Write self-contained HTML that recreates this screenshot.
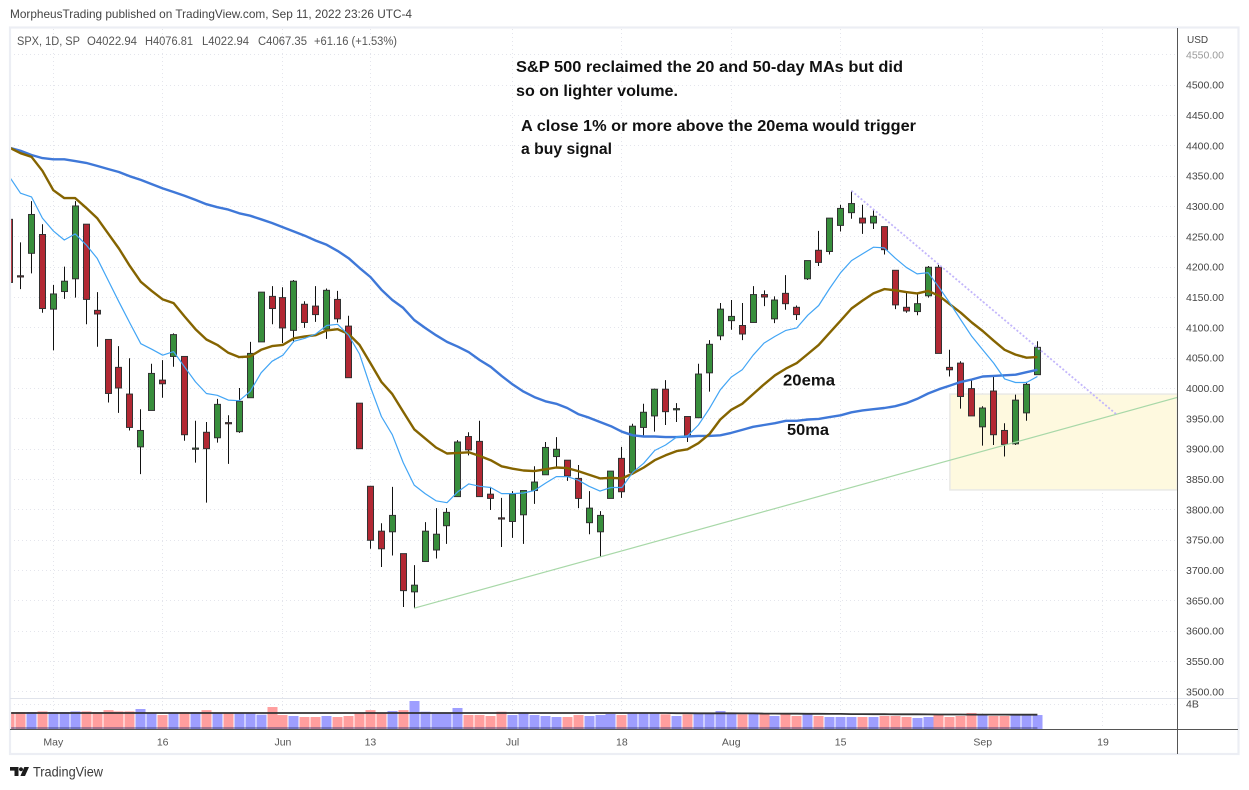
<!DOCTYPE html>
<html lang="en">
<head>
<meta charset="utf-8">
<title>SPX daily chart</title>
<style>
html,body{margin:0;padding:0;background:#fff;width:1249px;height:790px;overflow:hidden}
svg{display:block;font-family:"Liberation Sans",sans-serif}
</style>
</head>
<body>
<svg id="chart" xmlns="http://www.w3.org/2000/svg" width="1249" height="790" viewBox="0 0 1249 790">
  <defs>
    <clipPath id="main-clip"><rect x="10" y="29" width="1167" height="669"/></clipPath>
    <clipPath id="vol-clip"><rect x="10" y="699" width="1167" height="30"/></clipPath>
  </defs>
  <text x="10" y="18" font-size="12" fill="#444" textLength="402" lengthAdjust="spacingAndGlyphs">MorpheusTrading published on TradingView.com, Sep 11, 2022 23:26 UTC-4</text>

  <g id="grid"></g>
  <rect id="zone" fill="#fef9df" stroke="#e9e9e6" stroke-width="1.5"/>
  <g id="volume" clip-path="url(#vol-clip)"></g>
  <g id="candles" clip-path="url(#main-clip)"></g>
  <g id="lines" clip-path="url(#main-clip)"></g>
  <g id="drawings" clip-path="url(#main-clip)"></g>

  <g>
    <rect x="10" y="27.5" width="1228.5" height="726.5" fill="none" stroke="#eceef4" stroke-width="2.2"/>
    <line x1="10" x2="1238" y1="698.5" y2="698.5" stroke="#e0e3eb"/>
    <line x1="10" x2="1238" y1="729.5" y2="729.5" stroke="#555"/>
    <line x1="1177.5" x2="1177.5" y1="28" y2="754" stroke="#555"/>
  </g>

  <g font-size="11.5" fill="#555">
    <text x="17" y="45" textLength="63" lengthAdjust="spacingAndGlyphs">SPX, 1D, SP</text>
    <text x="87" y="45" textLength="50" lengthAdjust="spacingAndGlyphs">O4022.94</text>
    <text x="145" y="45" textLength="48" lengthAdjust="spacingAndGlyphs">H4076.81</text>
    <text x="202" y="45" textLength="47" lengthAdjust="spacingAndGlyphs">L4022.94</text>
    <text x="258" y="45" textLength="49" lengthAdjust="spacingAndGlyphs">C4067.35</text>
    <text x="314" y="45" textLength="83" lengthAdjust="spacingAndGlyphs">+61.16 (+1.53%)</text>
  </g>

  <g font-size="15.5" font-weight="bold" fill="#111">
    <text x="516" y="72" textLength="387" lengthAdjust="spacingAndGlyphs">S&amp;P 500 reclaimed the 20 and 50-day MAs but did</text>
    <text x="516" y="96" textLength="162" lengthAdjust="spacingAndGlyphs">so on lighter volume.</text>
    <text x="521" y="131" textLength="395" lengthAdjust="spacingAndGlyphs">A close 1% or more above the 20ema would trigger</text>
    <text x="521" y="154" textLength="91" lengthAdjust="spacingAndGlyphs">a buy signal</text>
    <text x="783" y="385.5" textLength="52" lengthAdjust="spacingAndGlyphs">20ema</text>
    <text x="787" y="435" textLength="42" lengthAdjust="spacingAndGlyphs">50ma</text>
  </g>

  <g id="price-labels" font-size="10.5" fill="#444"></g>
  <text x="1187" y="43" font-size="10" fill="#444">USD</text>
  <text x="1186" y="707.5" font-size="10.5" fill="#444">4B</text>
  <g id="time-labels" font-size="10.5" fill="#555" text-anchor="middle"></g>

  <g>
    <path d="M10 767h8.5v9h-4v-5.4H10zM24.3 767h4.7l-4 9h-4.6zM21 767.2a2 2 0 1 1-.01 0z" fill="#1c1c1c"/>
    <text x="33" y="776.5" font-size="13.5" fill="#3a3a3a" textLength="70" lengthAdjust="spacingAndGlyphs">TradingView</text>
  </g>
</svg>
<script>
const priceTicks = [4550,4500,4450,4400,4350,4300,4250,4200,4150,4100,4050,4000,3950,3900,3850,3800,3750,3700,3650,3600,3550,3500];
const timeLabels = ['May','16','Jun','13','Jul','18','Aug','15','Sep','19'];
const timeTickBars = [4,14,25,33,46,56,66,76,89,100];

const opens = [4278,4185,4222,4253,4130,4159,4180,4270,4128,4080,4034,3990,3903,3963,4013,4052,4052,3899,3927,3918,3943,3928,3984,4076,4151,4149,4095,4138,4135,4097,4146,4102,3975,3838,3764,3763,3727,3664,3714,3733,3773,3821,3920,3912,3825,3786,3780,3791,3831,3857,3887,3881,3851,3778,3763,3818,3884,3861,3935,3954,3998,3964,3953,3951,4025,4086,4111,4103,4108,4154,4114,4156,4133,4180,4227,4225,4268,4289,4280,4272,4266,4194,4133,4126,4152,4199,4034,4041,3999,3936,3995,3930,3908,3959,4022];
const highs = [4278,4240,4308,4270,4170,4200,4308,4270,4158,4080,4069,4049,3965,4040,4046,4090,4052,3946,3944,3982,3955,4000,4076,4158,4168,4166,4178,4143,4168,4164,4160,4119,3975,3838,3777,3837,3727,3708,3779,3802,3802,3914,3927,3946,3837,3819,3830,3831,3871,3911,3919,3881,3873,3830,3797,3863,3903,3941,3974,3999,4013,3975,3953,4040,4079,4140,4145,4140,4168,4161,4151,4186,4136,4210,4259,4280,4302,4325,4302,4293,4266,4194,4159,4156,4201,4203,4063,4044,4013,3970,4019,3942,3989,4010,4077];
const lows = [4174,4163,4189,4124,4062,4147,4149,4105,4068,3976,3959,3930,3858,3963,3984,4035,3913,3877,3811,3910,3875,3926,3984,4076,4105,4074,4075,4099,4109,4081,4108,4017,3900,3735,3705,3724,3639,3637,3714,3719,3743,3821,3889,3821,3799,3738,3753,3743,3809,3857,3870,3847,3802,3759,3722,3818,3819,3861,3922,3928,3939,3944,3911,3951,3994,4079,4096,4079,4108,4135,4107,4129,4112,4178,4201,4220,4258,4279,4254,4262,4220,4130,4124,4120,4149,4057,4019,3966,3954,3905,3906,3887,3906,3946,4022];
const closes = [4174,4183,4286,4131,4155,4176,4300,4146,4122,3991,4000,3935,3930,4024,4007,4088,3923,3901,3900,3973,3941,3978,4057,4158,4131,4099,4176,4108,4121,4161,4114,4017,3900,3749,3735,3790,3666,3675,3764,3759,3795,3911,3898,3821,3818,3784,3825,3831,3845,3902,3899,3855,3818,3802,3790,3863,3829,3937,3960,3998,3961,3966,3920,4023,4072,4130,4118,4089,4154,4150,4145,4139,4121,4210,4207,4280,4296,4304,4272,4283,4228,4137,4127,4139,4199,4057,4030,3986,3954,3967,3923,3907,3980,4006,4067];

const ema10 = [4348,4321,4315,4280,4259,4244,4254,4236,4214,4178,4142,4107,4073,4064,4054,4060,4035,4010,3991,3988,3980,3979,3994,4025,4044,4054,4077,4082,4089,4103,4105,4087,4056,4002,3953,3923,3877,3840,3826,3814,3811,3829,3842,3838,3836,3826,3826,3827,3831,3843,3854,3854,3848,3838,3830,3836,3836,3861,3876,3897,3906,3919,3921,3939,3966,3997,4018,4030,4054,4074,4085,4095,4099,4120,4136,4164,4190,4210,4221,4232,4231,4214,4199,4188,4190,4166,4140,4112,4085,4063,4041,4015,4009,4009,4019];
const ema20 = [4396,4387,4381,4358,4326,4313,4313,4297,4280,4255,4230,4201,4175,4160,4146,4140,4118,4097,4080,4071,4058,4051,4052,4063,4069,4071,4082,4085,4087,4095,4097,4089,4071,4041,4010,3990,3961,3932,3917,3902,3892,3893,3894,3888,3881,3871,3867,3864,3863,3866,3869,3868,3863,3857,3851,3852,3851,3859,3869,3881,3889,3896,3899,3909,3924,3948,3964,3974,3990,4006,4021,4032,4041,4056,4071,4091,4111,4131,4144,4156,4163,4161,4158,4156,4160,4152,4138,4124,4108,4094,4078,4063,4055,4050,4051];
const sma50 = [4396,4391,4384,4379,4377,4377,4374,4371,4366,4361,4356,4349,4343,4336,4329,4323,4317,4310,4303,4298,4294,4288,4284,4278,4272,4265,4258,4251,4243,4236,4226,4214,4198,4183,4162,4145,4132,4112,4099,4087,4076,4068,4059,4046,4035,4020,4006,3994,3985,3978,3974,3967,3957,3951,3944,3937,3928,3922,3920,3920,3919,3919,3920,3921,3921,3922,3926,3931,3936,3939,3942,3946,3946,3948,3949,3952,3955,3960,3963,3965,3967,3970,3975,3982,3991,3998,4004,4010,4014,4019,4020,4021,4022,4026,4030];

const volumes = [2.7,2.7,2.7,2.8,2.7,2.7,2.8,2.8,2.7,3.0,2.8,2.8,3.17,2.6,2.23,2.65,2.7,2.7,3.0,2.5,2.5,2.5,2.5,2.28,3.48,2.23,2.08,1.92,1.92,2.08,1.92,2.08,2.6,3.0,2.6,2.86,3.0,4.42,2.75,2.65,2.65,3.33,2.23,2.23,2.08,2.75,2.23,2.65,2.23,2.08,1.92,1.92,2.23,2.08,2.23,2.39,2.23,2.5,2.5,2.6,2.34,2.08,2.34,2.5,2.5,2.86,2.5,2.34,2.5,2.39,2.08,2.34,2.08,2.34,2.08,1.92,1.92,1.92,1.92,1.92,2.08,2.08,1.92,1.77,1.92,2.34,1.92,2.08,2.55,2.23,2.08,2.08,2.23,2.23,2.23];
const volumeMA = [2.55,2.55,2.55,2.55,2.55,2.55,2.55,2.55,2.55,2.55,2.55,2.55,2.55,2.55,2.55,2.55,2.55,2.55,2.55,2.55,2.55,2.55,2.55,2.55,2.55,2.55,2.55,2.55,2.55,2.55,2.55,2.55,2.55,2.55,2.55,2.55,2.55,2.55,2.55,2.55,2.55,2.55,2.55,2.55,2.55,2.55,2.55,2.55,2.55,2.55,2.55,2.55,2.55,2.55,2.55,2.55,2.55,2.55,2.55,2.55,2.55,2.52,2.52,2.5,2.5,2.5,2.5,2.48,2.48,2.46,2.46,2.44,2.44,2.42,2.42,2.4,2.4,2.38,2.38,2.36,2.36,2.35,2.35,2.34,2.33,2.32,2.32,2.31,2.3,2.3,2.29,2.29,2.28,2.28,2.28];

const greenTrendBars = [37,106.9];
const greenTrendPrices = [3637,3985];
const purpleTrendBars = [77,101.3];
const purpleTrendPrices = [4325,3955.5];
const zoneBars = [86,106.8];
const zonePrices = [3990,3832];

const SVGNS = 'http://www.w3.org/2000/svg';
function xAt(bar){ return 9.6 + 10.934 * bar; }
function yAt(price){ return 388 - (price - 4000) * 0.6067; }
function yVol(v){ return 729.3 - v * 6.4; }
function make(tag, attrs, parent){
  const el = document.createElementNS(SVGNS, tag);
  for (const k in attrs) el.setAttribute(k, attrs[k]);
  parent.appendChild(el);
  return el;
}

const grid = document.getElementById('grid');
priceTicks.forEach(function(p){
  const y = Math.round(yAt(p)) + 0.5;
  const gl = make('line', {x1:10, x2:1177, y1:y, y2:y, stroke:'#e4e5ec', 'stroke-dasharray':'1 3'}, grid);
  
  
});
{
  const gl = make('line', {x1:10, x2:1177, y1:704.5, y2:704.5, stroke:'#e4e5ec', 'stroke-dasharray':'1 3'}, grid);
  
  
}
timeTickBars.forEach(function(b){
  const x = Math.floor(xAt(b)) + 0.5;
  const gl = make('line', {x1:x, x2:x, y1:29, y2:729, stroke:'#e4e5ec', 'stroke-dasharray':'1 3'}, grid);
  
  
});

const priceLabels = document.getElementById('price-labels');
priceTicks.forEach(function(p, i){
  const t = make('text', {x:1186, y:yAt(p) + 4, fill: i === 0 ? '#999' : '#444'}, priceLabels);
  
  
  t.textContent = p.toFixed(2);
});

const timeGroup = document.getElementById('time-labels');
timeLabels.forEach(function(label, i){
  const t = make('text', {x:xAt(timeTickBars[i]), y:745.5}, timeGroup);
  
  
  t.textContent = label;
});

const zone = document.getElementById('zone');
zone.setAttribute('x', xAt(zoneBars[0]));
zone.setAttribute('width', xAt(zoneBars[1]) - xAt(zoneBars[0]));
zone.setAttribute('y', yAt(zonePrices[0]));
zone.setAttribute('height', yAt(zonePrices[1]) - yAt(zonePrices[0]));

const volGroup = document.getElementById('volume');
volumes.forEach(function(v, i){
  const up = closes[i] >= opens[i];
  const cx = Math.floor(xAt(i)) + 0.5;
  const r = make('rect', {x:cx - 5, width:10, y:yVol(v), height:729.3 - yVol(v), fill: up ? '#9e9eff' : '#ff9e9e'}, volGroup);
  
  
});
{
  const band = make('rect', {x:10, width:xAt(volumes.length - 1) - 10, y:727, height:2.4, fill:'rgba(60,60,120,0.45)'}, volGroup);
  
  
  const pts = volumeMA.map(function(v, i){ return xAt(i).toFixed(1) + ',' + yVol(v).toFixed(1); }).join(' ');
  const ma = make('polyline', {points:pts, fill:'none', stroke:'#333', 'stroke-width':1.8}, volGroup);
  
  
}

const candleGroup = document.getElementById('candles');
opens.forEach(function(o, i){
  const c = closes[i];
  const cx = Math.floor(xAt(i)) + 0.5;
  const wick = make('line', {x1:cx, x2:cx, y1:yAt(highs[i]), y2:yAt(lows[i]), stroke:'#111', 'stroke-width':1}, candleGroup);
  
  
  const top = yAt(Math.max(o, c));
  const bot = yAt(Math.min(o, c));
  const body = make('rect', {x:cx - 3, width:6, y:top, height:Math.max(bot - top, 0.6), fill: c >= o ? '#388e3c' : '#b22833', stroke:'#333', 'stroke-width':1}, candleGroup);
  
  
});

const lineGroup = document.getElementById('lines');
function series(values, color, width, name){
  const pts = values.map(function(v, i){ return xAt(i).toFixed(1) + ',' + yAt(v).toFixed(1); }).join(' ');
  const pl = make('polyline', {points:pts, fill:'none', stroke:color, 'stroke-width':width, 'stroke-linejoin':'round'}, lineGroup);
  
  
}
series(sma50, '#3f78d8', 2.4, 'sma-50-line');
series(ema20, '#856400', 2.4, 'ema-20-line');
series(ema10, '#42a5f5', 1.2, 'ema-10-line');

const drawGroup = document.getElementById('drawings');
const greenTrend = make('line', {x1:xAt(greenTrendBars[0]), y1:yAt(greenTrendPrices[0]), x2:xAt(greenTrendBars[1]), y2:yAt(greenTrendPrices[1]), stroke:'#a8d8a8', 'stroke-width':1.2}, drawGroup);


const purpleTrend = make('line', {x1:xAt(purpleTrendBars[0]), y1:yAt(purpleTrendPrices[0]), x2:xAt(purpleTrendBars[1]), y2:yAt(purpleTrendPrices[1]), stroke:'#c3b6fb', 'stroke-width':1.8, 'stroke-dasharray':'2 2'}, drawGroup);


</script>
</body>
</html>
